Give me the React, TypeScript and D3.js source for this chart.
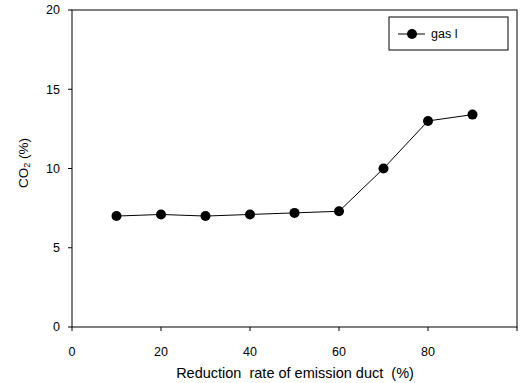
import React from "react";
import * as d3 from "d3";

const xValues = [10, 20, 30, 40, 50, 60, 70, 80, 90];
const co2Values = [7.0, 7.1, 7.0, 7.1, 7.2, 7.3, 10.0, 13.0, 13.4];
const xTicks = [0, 20, 40, 60, 80];
const yTicks = [0, 5, 10, 15, 20];
const seriesName = "gas l";

export default function App() {
  const W = 521, H = 383;
  const left = 72, right = 517, top = 10, bottom = 327;
  const x = d3.scaleLinear().domain([0, 100]).range([left, right]);
  const y = d3.scaleLinear().domain([0, 20]).range([bottom, top]);
  const line = d3.line<number>().x((_, i) => x(xValues[i])).y((d) => y(d));
  const font = "'Liberation Sans', Arial, sans-serif";
  return (
    <svg width={W} height={H} style={{ position: "absolute", left: 0, top: 0, background: "#fff" }} fontFamily={font}>
      <rect x={left} y={top} width={right - left} height={bottom - top} fill="none" stroke="#000" strokeWidth={1} />
      {yTicks.map((t) => (
        <g key={"y" + t}>
          <line x1={left - 4} x2={left} y1={y(t)} y2={y(t)} stroke="#000" />
          <text x={left - 12} y={y(t)} dy="0.35em" textAnchor="end" fontSize={12.5}>{t}</text>
        </g>
      ))}
      {xTicks.map((t) => (
        <g key={"x" + t}>
          <line x1={x(t)} x2={x(t)} y1={bottom} y2={bottom + 4} stroke="#000" />
          <text x={x(t)} y={356} textAnchor="middle" fontSize={12.5}>{t}</text>
        </g>
      ))}
      <line x1={x(100)} x2={x(100)} y1={bottom} y2={bottom + 4} stroke="#000" />
      <path d={line(co2Values) || ""} fill="none" stroke="#000" strokeWidth={1} />
      {co2Values.map((v, i) => (
        <circle key={i} cx={x(xValues[i])} cy={y(v)} r={5} fill="#000" />
      ))}
      <text x={295} y={378} textAnchor="middle" fontSize={14.5} style={{ whiteSpace: "pre" }}>
        Reduction  rate of emission duct  (%)
      </text>
      <text transform={`translate(28, 163) rotate(-90)`} textAnchor="middle" fontSize={13.5}>
        CO<tspan fontSize={9} dy={2}>2</tspan><tspan dy={-2}> (%)</tspan>
      </text>
      <rect x={389} y={17} width={119} height={33} fill="#fff" stroke="#000" strokeWidth={1} />
      <line x1={398} x2={425} y1={34} y2={34} stroke="#000" />
      <circle cx={412} cy={34} r={5} fill="#000" />
      <text x={431} y={34} dy="0.35em" fontSize={12.5}>{seriesName}</text>
    </svg>
  );
}
